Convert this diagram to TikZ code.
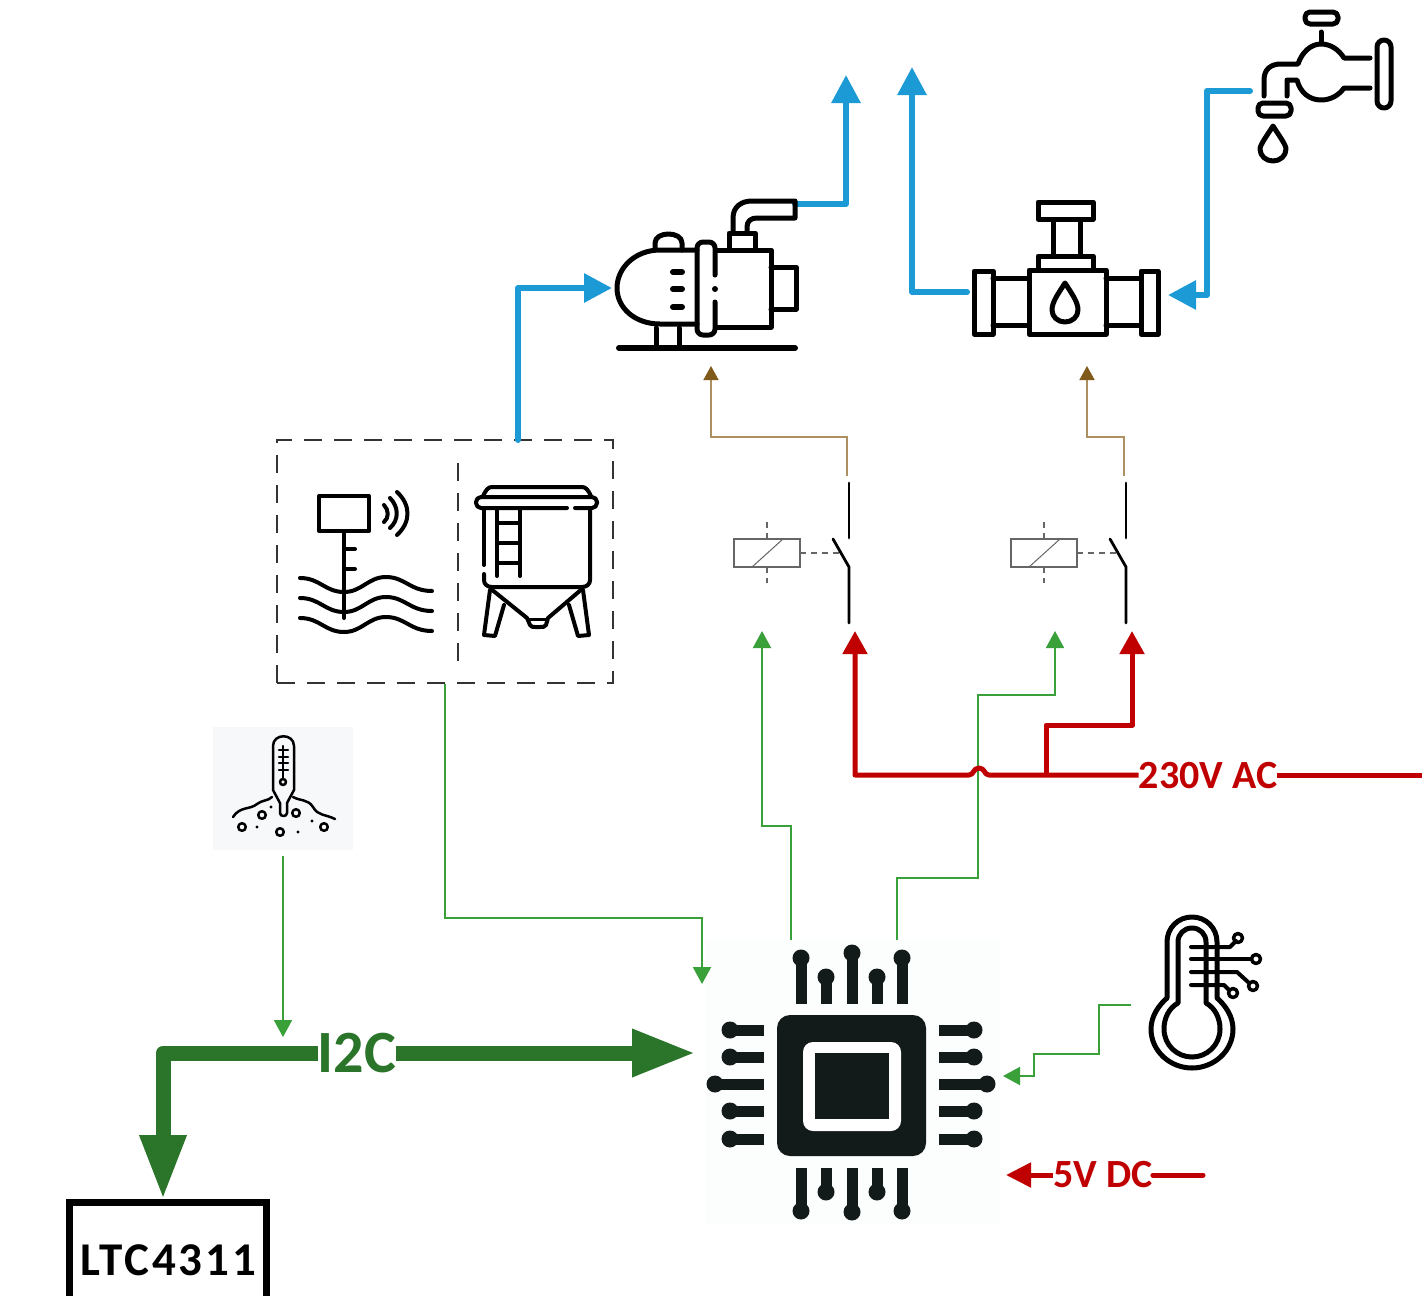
\documentclass[tikz,border=0pt]{standalone}
\usepackage{fontspec}
\setmainfont{Carlito}
\newfontfamily\ltcfont[LetterSpace=6]{Carlito}
\usetikzlibrary{arrows.meta}
\definecolor{pipeblue}{HTML}{1B9AD6}
\definecolor{mainsred}{HTML}{C00000}
\definecolor{sigleaf}{HTML}{3AA03A}
\definecolor{busgreen}{HTML}{2A752A}
\definecolor{brownline}{HTML}{AD9060}
\definecolor{browntip}{HTML}{7F5A1A}
\definecolor{chipblack}{HTML}{131A1A}
\definecolor{coilgray}{HTML}{666666}
\definecolor{chipback}{HTML}{FCFDFD}
\definecolor{soilback}{HTML}{F7F8FA}
\tikzset{
    icon/.style={draw=black, line width=5pt, line join=round, line cap=round},
    thinicon/.style={draw=black, line width=2.5pt, line join=round, line cap=round},
    bluewire/.style={draw=pipeblue, line width=6pt, line join=round, -{Triangle[length=28pt,width=28pt]}},
    greenwire/.style={draw=sigleaf, line width=2pt, -{Triangle[length=17pt,width=18pt]}},
    brownwire/.style={draw=brownline, line width=1.6pt, -{Triangle[length=14pt,width=15pt,color=browntip]}},
    redline/.style={draw=mainsred, line width=5pt},
    redwire/.style={redline, line join=round, -{Triangle[length=23pt,width=24pt]}},
    buswire/.style={draw=busgreen, line width=15pt, line join=round},
    coil/.style={draw=coilgray, line width=1.5pt},
    coildash/.style={draw=coilgray, line width=1.5pt, dash pattern=on 6pt off 5pt},
    contact/.style={draw=black, line width=2.8pt, line cap=round, line join=round},
    wirelabel/.style={inner sep=0pt, font=\fontsize{40}{40}\selectfont\bfseries},
    chippin/.style={draw=chipblack, line width=11pt},
    chippad/.style={fill=chipblack}
}
\newcommand{\waterdrop}[3]{%
    \draw[icon] (#1,#2) .. controls (#1-7,#2+11) and (#1-13,#2+19) .. (#1-13,#3-12)
        .. controls (#1-13,#3-5) and (#1-7,#3) .. (#1,#3)
        .. controls (#1+7,#3) and (#1+13,#3-5) .. (#1+13,#3-12)
        .. controls (#1+13,#2+19) and (#1+7,#2+11) .. cycle;}
\begin{document}
\begin{tikzpicture}[x=1pt,y=-1pt]
        \useasboundingbox (0,0) rectangle (1422,1296);
        \fill[white] (0,0) rectangle (1422,1296);
        \fill[chipback] (705,940) rectangle (1000,1225);
        \fill[soilback] (213,727) rectangle (353,850);

        % boxes and labels
        \node[draw=black!80, line width=1.5pt, dash pattern=on 18pt off 12pt, minimum width=336pt, minimum height=243pt, inner sep=0pt] (sensorbox) at (445,561.5) {};
        \node[inner sep=0pt, minimum width=196pt, minimum height=93pt] (ltcbox) at (168,1249.5) {};
        \node[inner sep=0pt, font=\fontsize{47}{47}\selectfont\bfseries\ltcfont] (ltclabel) at (168,1260) {LTC4311};
        \node[wirelabel, text=mainsred] (aclabel) at (1208,776) {230V AC};
        \node[wirelabel, text=mainsred] (dclabel) at (1103,1175) {5V DC};
        \node[wirelabel, text=busgreen, font=\fontsize{60}{60}\selectfont\bfseries] (buslabel) at (357,1053) {I2C};
        \draw[line width=7pt] (ltcbox.south west) |- (ltcbox.north east) -- (ltcbox.south east);
        \draw[draw=black!80, line width=1.5pt, dash pattern=on 18pt off 12pt] (458,463) -- (458,668);

        % ports
        \coordinate (pumpin) at (612,288);
        \coordinate (pumpout) at (795,204);
        \coordinate (pumpoutend) at (846,75);
        \coordinate (valveout) at (967,292);
        \coordinate (valveoutend) at (912,67);
        \coordinate (valvein) at (1168,295);
        \coordinate (tapout) at (1250,91);
        \coordinate (tankout) at (518,440);
        \coordinate (soil) at (283,856);
        \coordinate (busdrop) at (283,1037);
        \coordinate (busend) at (163,1200);
        \coordinate (chipin) at (702,984);
        \coordinate (chipbus) at (696,1053);
        \coordinate (chipside) at (1003,1076);
        \coordinate (chipdc) at (1006,1175);
        \coordinate (chiprelayone) at (791,940);
        \coordinate (chiprelaytwo) at (897,940);
        \coordinate (coilone) at (762,631);
        \coordinate (coiltwo) at (1055,631);
        \coordinate (swone) at (855,631);
        \coordinate (swtwo) at (1132,631);
        \coordinate (swoneout) at (847,476);
        \coordinate (swtwoout) at (1124,476);
        \coordinate (pumpfeed) at (711,366);
        \coordinate (valvefeed) at (1087,366);
        \coordinate (tempout) at (1131,1005);
        \coordinate (mainsend) at (1422,775);
        \coordinate (dcend) at (1203,1175);

        % water
        \draw[bluewire] (tankout) |- (pumpin);
        \draw[bluewire] (pumpout) -| (pumpoutend);
        \draw[bluewire] (valveout) -| (valveoutend);
        \draw[bluewire] (tapout) -- (1207,91) |- (valvein);
        \fill[pipeblue] (tankout) circle (3pt) (pumpout) circle (3pt) (valveout) circle (3pt) (tapout) circle (3pt);

        % signals
        \draw[brownwire] (swoneout) |- (711,437) -- (pumpfeed);
        \draw[brownwire] (swtwoout) |- (1087,437) -- (valvefeed);
        \draw[greenwire] (soil) -- (busdrop);
        \draw[greenwire] (sensorbox.south) |- (702,918) -- (chipin);
        \draw[greenwire] (chiprelayone) |- (762,826) -- (coilone);
        \draw[greenwire] (chiprelaytwo) |- (978,878) |- (1055,695) -- (coiltwo);
        \draw[greenwire] (tempout) -| (1099,1054) -| (1034,1076) -- (chipside);

        % mains
        \draw[redline] (mainsend) -- (mainsend -| aclabel.east);
        \draw[redwire] (mainsend -| aclabel.west) -- (989,775) .. controls (984,775) and (985,768) .. (979,768)
            .. controls (973,768) and (974,775) .. (969,775) -| (swone);
        \draw[redwire] (1046,775) |- (1132,725) -- (swtwo);
        \draw[redline, -{Triangle[length=25pt,width=24pt]}] (dclabel.west) -- (chipdc);
        \draw[redline, line cap=round] (dclabel.east) -- (dcend);

        % bus
        \draw[buswire, -{Triangle[length=65pt,width=43pt]}] (buslabel.west) -| (busend);
        \draw[buswire, -{Triangle[length=64pt,width=44pt]}] (buslabel.east) -- (chipbus);

        % pump
        \draw[icon, line width=6pt] (619,348) -- (795,348);
        \draw[icon] (697,250) -- (660,250) .. controls (635,250) and (617,268) .. (617,288)
            .. controls (617,308) and (635,324) .. (660,324) -- (697,324);
        \draw[icon, rounded corners=6pt] (715,275) -- (715,242) -- (697,242) -- (697,335) -- (715,335) -- (715,302);
        \fill (715,289) circle (3pt);
        \draw[icon] (717,250) -- (771,250) -- (771,327) -- (717,327);
        \draw[icon] (771,267) -- (796,267) -- (796,309) -- (771,309);
        \foreach \y in {272,289,307}
            \draw[icon, line width=6pt] (673,\y) -- (682,\y);
        \draw[icon] (655,250) -- (655,243) .. controls (655,231) and (682,231) .. (682,243) -- (682,250);
        \draw[icon] (729,250) -- (729,233) -- (755,233) -- (755,250);
        \draw[icon] (733,232) -- (733,218) .. controls (733,207) and (741,201) .. (752,201) -- (795,201) -- (795,218) -- (757,218)
            .. controls (751,218) and (747,221) .. (747,227) -- (747,232);
        \draw[icon] (656,328) -- (656,347) (679,328) -- (679,347);

        % valve
        \draw[icon] (974,271) rectangle (993,334);
        \draw[icon] (1141,271) rectangle (1158,334);
        \draw[icon] (993,278) -- (1029,278) (993,325) -- (1029,325);
        \draw[icon] (1106,278) -- (1141,278) (1106,325) -- (1141,325);
        \draw[icon] (1029,270) rectangle (1106,334);
        \draw[icon] (1038,269) -- (1038,256) -- (1093,256) -- (1093,269);
        \draw[icon] (1053,222) -- (1053,255) (1080,222) -- (1080,255);
        \draw[icon] (1038,202) rectangle (1093,219);
        \waterdrop{1065}{283}{322}

        % tap
        \draw[icon, rounded corners=5pt] (1305,12) rectangle (1338,24);
        \draw[icon] (1321,32) -- (1321,43);
        \draw[icon] (1264,96) -- (1264,80) .. controls (1264,69) and (1271,64) .. (1281,64) -- (1298,64)
            .. controls (1302,52) and (1311,44) .. (1321,44) .. controls (1331,44) and (1339,50) .. (1344,58) -- (1370,58);
        \draw[icon] (1287,96) -- (1287,80) -- (1297,80) .. controls (1300,92) and (1309,100) .. (1321,100)
            .. controls (1331,100) and (1339,95) .. (1344,88) -- (1370,88);
        \draw[icon, rounded corners=7pt] (1377,40) rectangle (1391,108);
        \draw[icon, rounded corners=5pt] (1258,103) rectangle (1291,116);
        \waterdrop{1273}{126}{161}

        % level sensor
        \draw[icon, line width=4pt] (319,496) rectangle (369,531);
        \draw[icon, line width=4pt] (344,531) -- (344,618);
        \draw[icon, line width=4pt] (344,549) -- (355,549) (344,569) -- (355,569);
        \foreach \y in {0,20,40}
            \draw[icon, line width=4pt] (300,578+\y) .. controls (320,578+\y) and (325,592+\y) .. (344,592+\y)
                .. controls (362,592+\y) and (368,577+\y) .. (386,577+\y) .. controls (405,577+\y) and (410,591+\y) .. (432,591+\y);
        \draw[icon, line width=4pt] (384,505) .. controls (389,510) and (389,518) .. (384,522);
        \draw[icon, line width=4pt] (390,498) .. controls (399,507) and (399,520) .. (390,528);
        \draw[icon, line width=4pt] (397,492) .. controls (411,505) and (411,522) .. (397,535);

        % tank
        \draw[icon, line width=4pt] (483,496) .. controls (486,490) and (488,487) .. (492,487) -- (582,487) .. controls (586,487) and (588,490) .. (591,496);
        \draw[icon, line width=4pt, rounded corners=5pt] (567,508) -- (476,508) -- (476,497) -- (597,497) -- (597,508) -- (575,508);
        \draw[icon, line width=4pt] (484,508) -- (484,565);
        \draw[icon, line width=4pt] (484,574) -- (484,580) .. controls (484,584) and (487,587) .. (492,587) -- (582,587) .. controls (587,587) and (590,584) .. (590,580) -- (590,508);
        \draw[icon, line width=4pt] (497,508) -- (497,576) (520,508) -- (520,576);
        \foreach \y in {523,543,563}
            \draw[icon, line width=4pt] (497,\y) -- (520,\y);
        \draw[icon, line width=4pt] (491,589) -- (527,618) -- (530,625) .. controls (531,627) and (533,627) .. (535,627) -- (540,627) .. controls (543,627) and (545,627) .. (546,625) -- (548,618) -- (582,589);
        \draw[icon, line width=3pt] (528,619) -- (547,619);
        \draw[icon, line width=4pt] (490,590) -- (484,635) -- (495,636) -- (504,605);
        \draw[icon, line width=4pt] (583,590) -- (589,635) -- (578,636) -- (569,605);

        % relays
        \foreach \dx in {0,277} {
            \begin{scope}[shift={(\dx,0)}]
                \draw[coil] (734,539) rectangle (800,567);
                \draw[line width=1pt, draw=coilgray] (752,567) -- (783,539);
                \draw[coildash] (767,522) -- (767,539) (767,567) -- (767,583) (800,553) -- (840,553);
                \draw[contact] (849,483) -- (849,538);
                \draw[contact] (833,539) -- (849,567) -- (849,623);
            \end{scope}
        }

        % chip
        \foreach \x/\y in {801/958,826/977,852/953,877/977,902/958} {
            \draw[chippin] (\x,1004) -- (\x,\y);
            \fill[chippad] (\x,\y) circle (8.5pt);
        }
        \foreach \x/\y in {801/1211,826/1192,852/1212,877/1192,902/1211} {
            \draw[chippin] (\x,1168) -- (\x,\y);
            \fill[chippad] (\x,\y) circle (8.5pt);
        }
        \foreach \y/\x in {1030/730,1057/730,1084/715,1111/730,1139/730} {
            \draw[chippin] (764,\y) -- (\x,\y);
            \fill[chippad] (\x,\y) circle (8.5pt);
        }
        \foreach \y/\x in {1030/974,1057/974,1084/987,1111/974,1139/974} {
            \draw[chippin] (939,\y) -- (\x,\y);
            \fill[chippad] (\x,\y) circle (8.5pt);
        }
        \fill[chipblack, rounded corners=13pt] (777,1015) rectangle (926,1156);
        \fill[white, rounded corners=10pt] (803,1042) rectangle (901,1131);
        \fill[chipblack] (815,1053) rectangle (889,1119);

        % thermometer
        \begin{scope}[shift={(-3,0)}]
        \draw[icon] (1170,998) -- (1170,942) .. controls (1170,928) and (1181,917) .. (1195,917) .. controls (1209,917) and (1220,928) .. (1220,942) -- (1220,998)
            .. controls (1228,1005) and (1236,1016) .. (1236,1029) .. controls (1236,1051) and (1217,1068) .. (1195,1068) .. controls (1173,1068) and (1154,1051) .. (1154,1029)
            .. controls (1154,1016) and (1162,1005) .. (1170,998) -- cycle;
        \draw[icon] (1181,1003) -- (1181,942) .. controls (1181,934) and (1187,928) .. (1195,928) .. controls (1203,928) and (1209,934) .. (1209,942) -- (1209,1003)
            .. controls (1218,1008) and (1223,1018) .. (1223,1029) .. controls (1223,1045) and (1210,1057) .. (1195,1057) .. controls (1180,1057) and (1167,1045) .. (1167,1029)
            .. controls (1167,1018) and (1172,1008) .. (1181,1003) -- cycle;
        \draw[icon, line width=4pt] (1194,947) -- (1233,947) -- (1239,941);
        \draw[icon, line width=4pt] (1194,959) -- (1254,959);
        \draw[icon, line width=4pt] (1194,972) -- (1240,972) -- (1251,982);
        \draw[icon, line width=4pt] (1194,985) -- (1227,985) -- (1232,990);
        \foreach \x/\y in {1241/938,1259/959,1256/986,1236/993}
            \draw[icon, line width=3.5pt] (\x,\y) circle (4.5pt);
        \end{scope}

        % soil probe
        \draw[thinicon] (273,790) -- (273,746) .. controls (273,733) and (294,733) .. (294,746) -- (294,790) -- (287,803) -- (287,813)
            .. controls (287,817) and (280,817) .. (280,813) -- (280,803) -- cycle;
        \draw[thinicon] (283,746) -- (283,779);
        \foreach \y in {750,757,763,770}
            \draw[thinicon] (279,\y) -- (288,\y);
        \draw[thinicon] (283,782) circle (3pt);
        \draw[thinicon] (233,817) .. controls (240,806) and (250,810) .. (257,804) .. controls (262,800) and (268,801) .. (272,797);
        \draw[thinicon] (293,797) .. controls (300,801) and (308,799) .. (313,807) .. controls (318,816) and (325,814) .. (335,819);
        \foreach \x/\y in {262/815,296/813,242/827,280/832,324/827}
            \draw[thinicon] (\x,\y) circle (3.8pt);
        \foreach \x/\y in {271/807,257/827,298/832,312/821}
            \fill (\x,\y) circle (1.7pt);
\end{tikzpicture}
\end{document}
